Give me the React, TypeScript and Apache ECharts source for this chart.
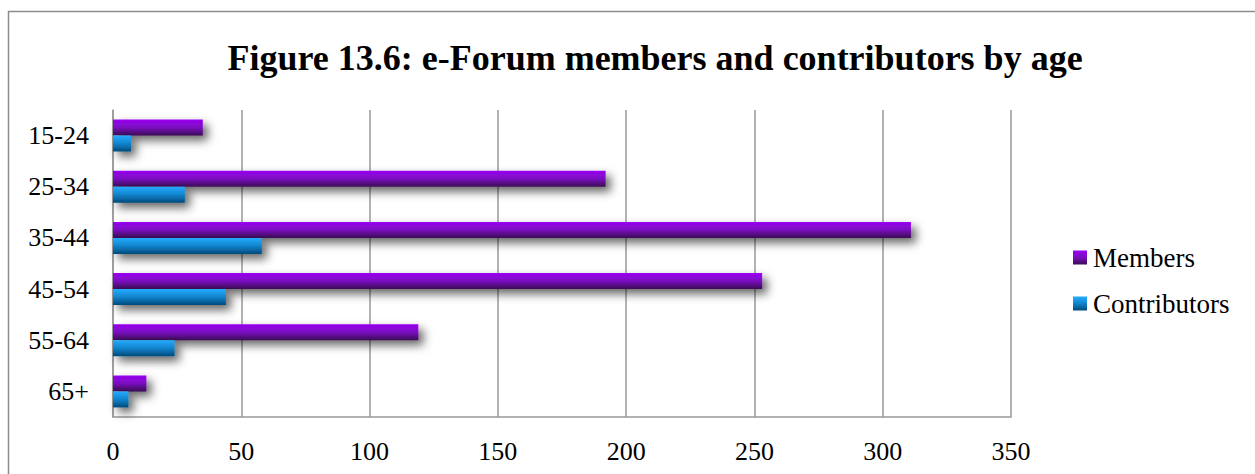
import React, { useEffect, useRef } from "react";
import * as echarts from "echarts";

const categories = ["15-24", "25-34", "35-44", "45-54", "55-64", "65+"];
const members = [35, 192, 311, 253, 119, 13];
const contributors = [7, 28, 58, 44, 24, 6];
const xTicks = { min: 0, max: 350, interval: 50 };
const titleText = "Figure 13.6: e-Forum members and contributors by age";

const FONT = '"Liberation Serif", "Times New Roman", serif';

export default function App() {
  const ref = useRef<HTMLDivElement>(null);
  useEffect(() => {
    document.body.style.margin = "0";
    const chart = echarts.init(ref.current!, null, { renderer: "svg" });
    const shadow = {
      shadowBlur: 10,
      shadowOffsetX: 5,
      shadowOffsetY: 5,
      shadowColor: "rgba(0,0,0,0.6)",
    };
    chart.setOption({
      animation: false,
      backgroundColor: "#fff",
      textStyle: { fontFamily: FONT, color: "#000" },
      title: {
        text: titleText,
        left: 650,
        top: 35,
        textAlign: "center",
        textStyle: { fontFamily: FONT, fontSize: 36, fontWeight: "bold", color: "#000" },
      },
      graphic: [
        {
          type: "rect",
          shape: { x: 8.5, y: 11.5, width: 1300, height: 500 },
          style: { fill: "none", stroke: "#8c8c8c", lineWidth: 1.5 },
          silent: true,
        },
      ],
      legend: {
        orient: "vertical",
        left: 1073,
        top: 244,
        padding: 0,
        icon: "rect",
        itemWidth: 14,
        itemHeight: 14,
        itemGap: 19,
        textStyle: { fontFamily: FONT, fontSize: 27, color: "#000", padding: [0, 0, 0, 1] },
        data: ["Members", "Contributors"],
      },
      grid: { left: 113, right: 244, top: 110, bottom: 57 },
      xAxis: {
        type: "value",
        min: xTicks.min,
        max: xTicks.max,
        interval: xTicks.interval,
        axisLine: { show: true, lineStyle: { color: "#999", width: 1.5 } },
        axisTick: { show: false },
        axisLabel: { fontFamily: FONT, fontSize: 26, color: "#000", margin: 21 },
        splitLine: { show: true, lineStyle: { color: "#999", width: 1.5 } },
      },
      yAxis: {
        type: "category",
        data: categories,
        inverse: true,
        axisLine: { show: true, lineStyle: { color: "#999", width: 1.5 } },
        axisTick: { show: false },
        axisLabel: { fontFamily: FONT, fontSize: 26, color: "#000", margin: 24 },
      },
      series: [
        {
          name: "Members",
          type: "bar",
          data: members,
          barWidth: 16,
          barGap: "0%",
          itemStyle: {
            color: new echarts.graphic.LinearGradient(0, 0, 0, 1, [
              { offset: 0, color: "#9a00f2" },
              { offset: 0.5, color: "#7a0fbf" },
              { offset: 1, color: "#3a0a52" },
            ]),
            ...shadow,
          },
        },
        {
          name: "Contributors",
          type: "bar",
          data: contributors,
          barWidth: 16,
          barGap: "0%",
          itemStyle: {
            color: new echarts.graphic.LinearGradient(0, 0, 0, 1, [
              { offset: 0, color: "#24acff" },
              { offset: 0.5, color: "#1183cc" },
              { offset: 1, color: "#004a7a" },
            ]),
            ...shadow,
          },
        },
      ],
    });
    return () => chart.dispose();
  }, []);
  return (
    <div
      ref={ref}
      style={{ position: "fixed", left: 0, top: 0, width: 1255, height: 474 }}
    />
  );
}
